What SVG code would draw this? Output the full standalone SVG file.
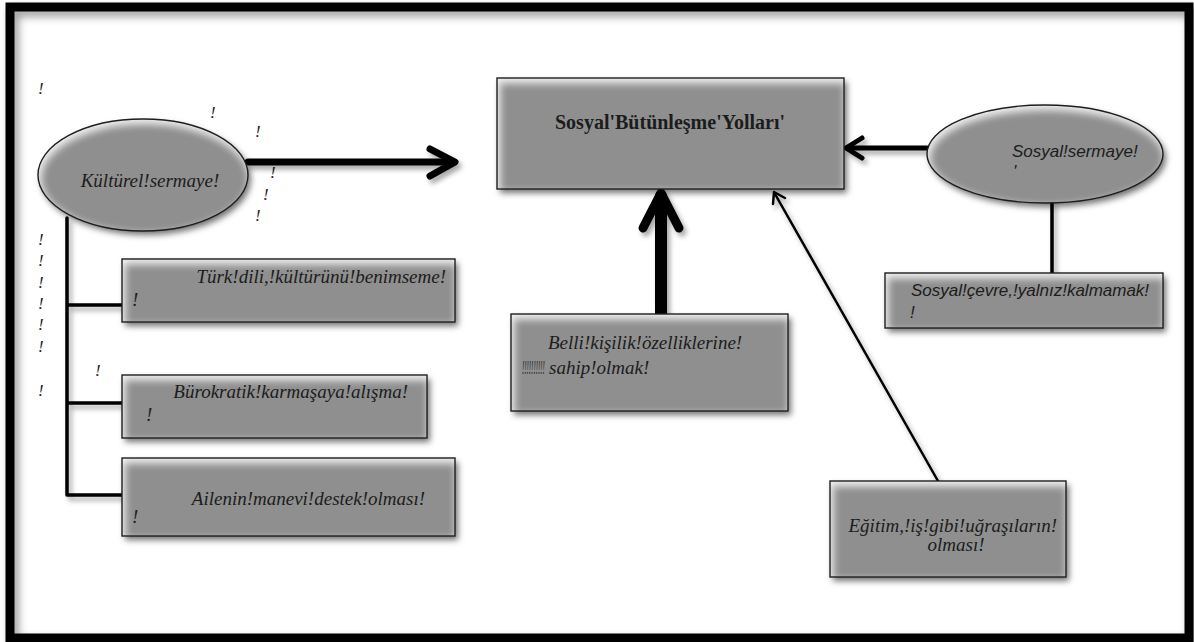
<svg xmlns="http://www.w3.org/2000/svg" width="1194" height="642" viewBox="0 0 1194 642">
<defs>
<style>
.it{font-family:"Liberation Serif",serif;font-style:italic;font-size:19px;fill:#1c1c1c}
.sa{font-family:"Liberation Sans",sans-serif;font-style:italic;font-size:17px;fill:#1c1c1c}
.bo{font-family:"Liberation Serif",serif;font-weight:bold;font-size:20px;fill:#1c1c1c}
.ex{font-family:"Liberation Serif",serif;font-style:italic;font-size:17px;fill:#1c1c1c}
.fill{fill:#8f8f8f}
.bd{fill:none;stroke:#1e1e1e;stroke-width:1.4}
.ln{fill:none;stroke:#000;stroke-linecap:round;stroke-linejoin:round}
</style>
<filter id="nf" x="-10%" y="-15%" width="125%" height="140%">
<feGaussianBlur in="SourceAlpha" stdDeviation="3" result="b1"/>
<feOffset in="b1" dx="3" dy="4" result="o"/>
<feFlood flood-color="#000" flood-opacity="0.55"/>
<feComposite in2="o" operator="in" result="shadow"/>
<feGaussianBlur in="SourceAlpha" stdDeviation="4" result="b2"/>
<feOffset in="b2" dx="2" dy="4" result="b2o"/>
<feComposite in="SourceAlpha" in2="b2o" operator="arithmetic" k2="1" k3="-1" result="edge"/>
<feFlood flood-color="#fff" flood-opacity="0.9"/>
<feComposite in2="edge" operator="in" result="glow"/>
<feMerge><feMergeNode in="shadow"/><feMergeNode in="SourceGraphic"/><feMergeNode in="glow"/></feMerge>
</filter>
<filter id="ls" x="-10%" y="-10%" width="130%" height="130%">
<feGaussianBlur in="SourceAlpha" stdDeviation="2.5" result="b"/>
<feOffset in="b" dx="3" dy="4" result="o"/>
<feFlood flood-color="#000" flood-opacity="0.35"/>
<feComposite in2="o" operator="in" result="s"/>
<feMerge><feMergeNode in="s"/><feMergeNode in="SourceGraphic"/></feMerge>
</filter>
<filter id="fs" x="-5%" y="-5%" width="110%" height="110%">
<feGaussianBlur in="SourceAlpha" stdDeviation="4" result="b"/>
<feOffset in="b" dx="4" dy="5" result="o"/>
<feFlood flood-color="#000" flood-opacity="0.4"/>
<feComposite in2="o" operator="in" result="s"/>
<feMerge><feMergeNode in="s"/><feMergeNode in="SourceGraphic"/></feMerge>
</filter>
</defs>
<rect width="1194" height="642" fill="#fff"/>
<g id="frame">
<rect x="10" y="7" width="1179" height="631" fill="none" stroke="#000" stroke-width="9" filter="url(#fs)"/>
</g>
<g id="marks" class="ex">
<text x="38" y="94">!</text>
<text x="210" y="118">!</text>
<text x="255" y="137">!</text>
<text x="270" y="178">!</text>
<text x="263" y="200">!</text>
<text x="255" y="221">!</text>
<text x="38" y="245">!</text>
<text x="38" y="266">!</text>
<text x="38" y="288">!</text>
<text x="38" y="309">!</text>
<text x="38" y="330">!</text>
<text x="38" y="352">!</text>
<text x="95" y="376">!</text>
<text x="38" y="396">!</text>
</g>
<g id="connectors" filter="url(#ls)">
<path class="ln" d="M67 218 V495 M67 305 H122 M67 403 H122 M67 495 H122" stroke-width="3.5" stroke-linecap="butt"/>
<path class="ln" d="M248 162 H452" stroke-width="7" stroke-linecap="butt"/>
<polyline class="ln" points="430,149 455,162 430,176" stroke-width="7"/>
<path class="ln" d="M927 148 H848" stroke-width="5" stroke-linecap="butt"/>
<polyline class="ln" points="862,138 846,148 862,158" stroke-width="5"/>
<path class="ln" d="M1052 203 V273" stroke-width="3.5" stroke-linecap="butt"/>
<path class="ln" d="M661 314 V196" stroke-width="12" stroke-linecap="butt"/>
<polyline class="ln" points="643,228 661,193 679,228" stroke-width="9"/>
<path class="ln" d="M938 481 L775 194" stroke-width="2.5"/>
<polyline class="ln" points="773,204 774,192 785,198" stroke-width="2.5"/>
</g>
<g id="n-kulturel">
<ellipse class="fill" cx="143" cy="175" rx="105" ry="56" filter="url(#nf)"/>
<ellipse class="bd" cx="143" cy="175" rx="105" ry="56"/>
<text class="it" x="150" y="187" text-anchor="middle">Kültürel!sermaye!</text>
</g>
<g id="n-turk">
<rect class="fill" x="122" y="259" width="333" height="63" filter="url(#nf)"/>
<rect class="bd" x="122" y="259" width="333" height="63"/>
<text class="it" x="446" y="283" text-anchor="end">Türk!dili,!kültürünü!benimseme!</text>
<text class="it" x="132" y="306">!</text>
</g>
<g id="n-buro">
<rect class="fill" x="122" y="375" width="305" height="63" filter="url(#nf)"/>
<rect class="bd" x="122" y="375" width="305" height="63"/>
<text class="it" x="408" y="398" text-anchor="end">Bürokratik!karmaşaya!alışma!</text>
<text class="it" x="146" y="421">!</text>
</g>
<g id="n-aile">
<rect class="fill" x="122" y="458" width="333" height="78" filter="url(#nf)"/>
<rect class="bd" x="122" y="458" width="333" height="78"/>
<text class="it" x="425" y="505" text-anchor="end">Ailenin!manevi!destek!olması!</text>
<text class="it" x="132" y="523">!</text>
</g>
<g id="n-center">
<rect class="fill" x="497" y="78" width="347" height="111" filter="url(#nf)"/>
<rect class="bd" x="497" y="78" width="347" height="111"/>
<text class="bo" x="670" y="129" text-anchor="middle">Sosyal'Bütünleşme'Yolları'</text>
</g>
<g id="n-sosyal">
<ellipse class="fill" cx="1045" cy="154" rx="118" ry="49" filter="url(#nf)"/>
<ellipse class="bd" cx="1045" cy="154" rx="118" ry="49"/>
<text class="sa" x="1012" y="157">Sosyal!sermaye!</text>
<text class="sa" x="1013" y="177">'</text>
</g>
<g id="n-cevre">
<rect class="fill" x="885" y="273" width="278" height="55" filter="url(#nf)"/>
<rect class="bd" x="885" y="273" width="278" height="55"/>
<text class="sa" x="911" y="296">Sosyal!çevre,!yalnız!kalmamak!</text>
<text class="sa" x="910" y="318">!</text>
</g>
<g id="n-belli">
<rect class="fill" x="511" y="314" width="277" height="97" filter="url(#nf)"/>
<rect class="bd" x="511" y="314" width="277" height="97"/>
<text class="it" x="548" y="349">Belli!kişilik!özelliklerine!</text>
<text class="it" transform="translate(522 374) scale(0.36 1)">!!!!!!!!!!</text>
<text class="it" x="549" y="374">sahip!olmak!</text>
</g>
<g id="n-egitim">
<rect class="fill" x="830" y="481" width="236" height="96" filter="url(#nf)"/>
<rect class="bd" x="830" y="481" width="236" height="96"/>
<text class="it" x="1057" y="532" text-anchor="end">Eğitim,!iş!gibi!uğraşıların!</text>
<text class="it" x="956" y="551" text-anchor="middle">olması!</text>
</g>
</svg>
